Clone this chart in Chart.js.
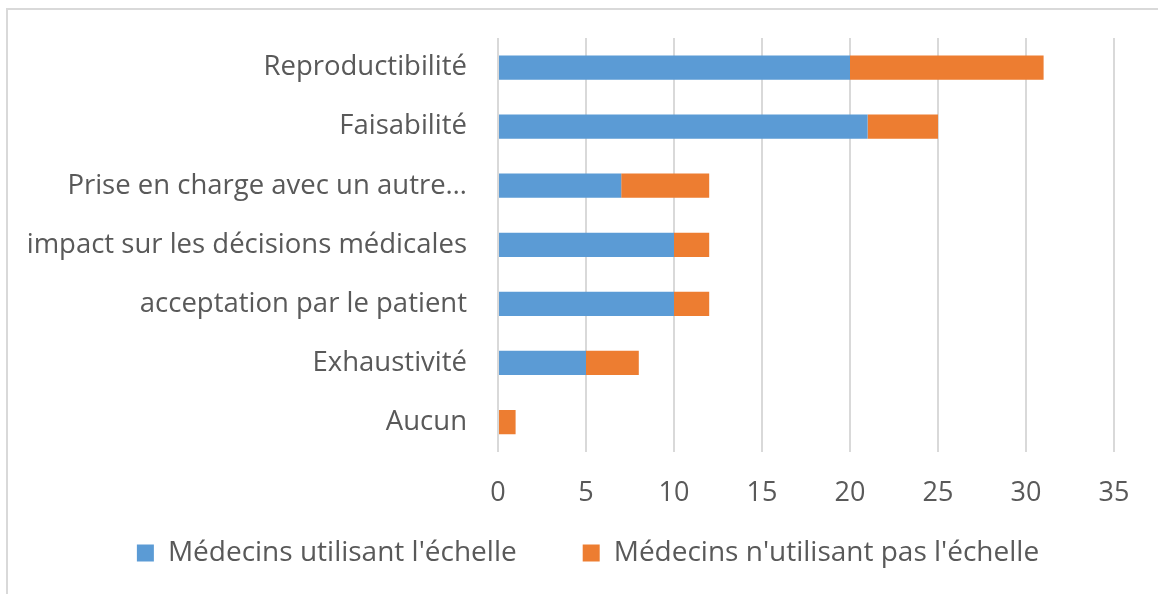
<!DOCTYPE html>
<html>
<head>
<meta charset="utf-8">
<script src="https://cdn.jsdelivr.net/npm/chart.js@4/dist/chart.umd.min.js"></script>
<style>
  html, body { margin: 0; padding: 0; background: #fff; overflow: hidden; }
  #frame {
    position: absolute; left: 6px; top: 8px; width: 1170px; height: 600px;
    border: 2px solid #d9d9d9; box-sizing: border-box;
  }
  #wrap { position: absolute; left: 0; top: 0; width: 1158px; height: 594px; }
</style>
</head>
<body>
<div id="frame"></div>
<div id="wrap"><canvas id="chart"></canvas></div>
<script>
const categories = [
  "Reproductibilité",
  "Faisabilité",
  "Prise en charge avec un autre…",
  "impact sur les décisions médicales",
  "acceptation par le patient",
  "Exhaustivité",
  "Aucun"
];
const utilisant = [20, 21, 7, 10, 10, 5, 0];
const nonUtilisant = [11, 4, 5, 2, 2, 3, 1];
const xTicks = [0, 5, 10, 15, 20, 25, 30, 35];

const textColor = "#595959";
const fontFamily = "'Open Sans', 'Noto Sans', sans-serif";

// legend padding is also the gap between items, so the box is moved after layout
const LEGEND_TOP = 473;
const LEGEND_DX = 31;
const legendShift = {
  id: "legendShift",
  afterLayout(chart) {
    const lg = chart.legend;
    lg.top = LEGEND_TOP;
    lg.bottom = chart.height;
    lg.height = lg.bottom - lg.top;
    lg.left += LEGEND_DX;
    lg.right += LEGEND_DX;
  }
};

const ctx = document.getElementById("chart").getContext("2d");
new Chart(ctx, {
  type: "bar",
  data: {
    labels: categories,
    datasets: [
      {
        label: "Médecins utilisant l'échelle",
        data: utilisant,
        backgroundColor: "#5b9bd5",
        barPercentage: 0.82,
        categoryPercentage: 0.5
      },
      {
        label: "Médecins n'utilisant pas l'échelle",
        data: nonUtilisant,
        backgroundColor: "#ed7d31",
        barPercentage: 0.82,
        categoryPercentage: 0.5
      }
    ]
  },
  plugins: [legendShift],
  options: {
    indexAxis: "y",
    responsive: true,
    maintainAspectRatio: false,
    animation: false,
    layout: { padding: { left: 0, right: 44, top: 38, bottom: 18 } },
    plugins: {
      legend: {
        position: "bottom",
        maxHeight: 40,
        labels: {
          color: textColor,
          font: { family: fontFamily, size: 28 },
          boxWidth: 17,
          boxHeight: 17,
          padding: 66
        }
      },
      tooltip: { enabled: false }
    },
    scales: {
      x: {
        stacked: true,
        min: 0,
        max: 35,
        afterBuildTicks: (s) => { s.ticks = xTicks.map((v) => ({ value: v })); },
        grid: { color: "#d9d9d9", lineWidth: 2, drawTicks: false },
        border: { display: false },
        ticks: {
          color: textColor,
          font: { family: fontFamily, size: 27 },
          padding: 26
        }
      },
      y: {
        stacked: true,
        grid: { display: false },
        border: { display: false },
        afterFit: (s) => {
          s.width = 498;
          s.paddingTop = 0;
          s.paddingBottom = 0;
        },
        ticks: {
          color: textColor,
          font: { family: fontFamily, size: 27.5 },
          padding: 23
        }
      }
    }
  }
});
</script>
</body>
</html>
